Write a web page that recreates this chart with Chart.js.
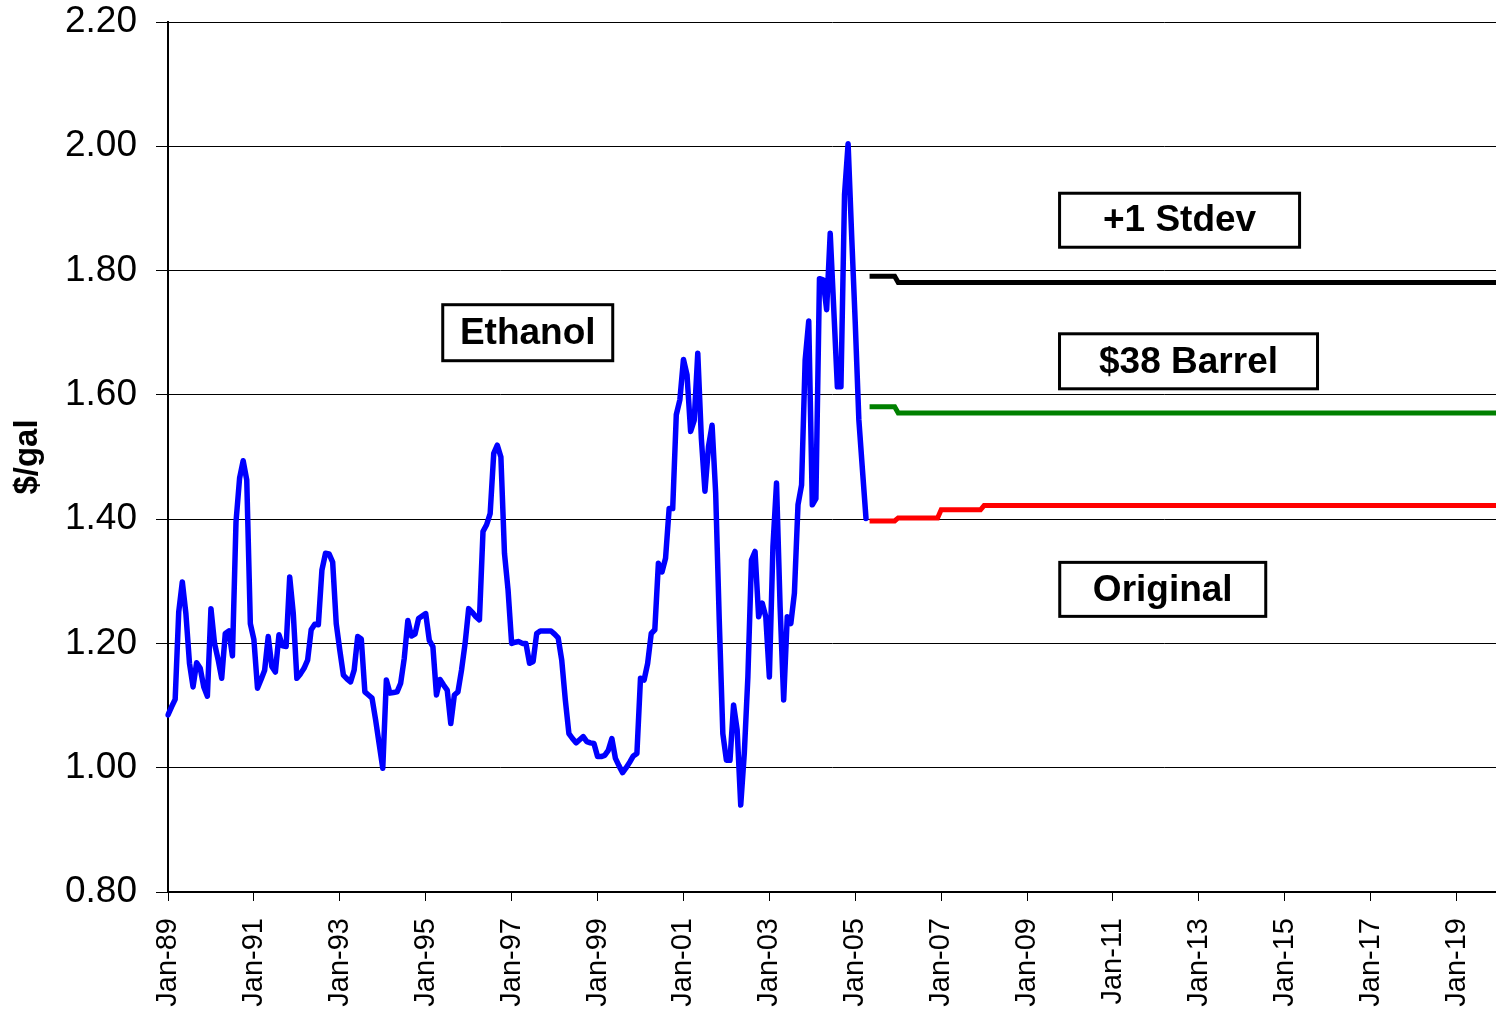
<!DOCTYPE html>
<html>
<head>
<meta charset="utf-8">
<script src="https://cdn.jsdelivr.net/npm/chart.js@4.4.0/dist/chart.umd.min.js"></script>
<style>
html,body{margin:0;padding:0;background:#fff;}
#wrap{width:1496px;height:1012px;position:relative;}
</style>
</head>
<body>
<div id="wrap"><canvas id="c" width="1496" height="1012"></canvas></div>
<script>
// ---------------- DATA ----------------
const monthNames = ['Jan','Feb','Mar','Apr','May','Jun','Jul','Aug','Sep','Oct','Nov','Dec'];
const firstYear = 1989;
const lastYear = 2019;
const categories = [];
for (let y = firstYear; y <= lastYear; y++) {
  for (let m = 0; m < 12; m++) categories.push(monthNames[m] + '-' + String(y % 100).padStart(2, '0'));
}

// Monthly ethanol price, Jan-89 .. Apr-05 ($/gal)
const ethanol = [
  1.085,1.098,1.110,1.251,1.299,1.248,1.168,1.130,1.169,1.160,1.130,1.115,
  1.256,1.200,1.174,1.144,1.216,1.220,1.180,1.396,1.466,1.494,1.463,1.232,
  1.206,1.128,1.142,1.157,1.211,1.163,1.154,1.214,1.196,1.195,1.307,1.248,
  1.144,1.151,1.160,1.173,1.222,1.231,1.230,1.318,1.345,1.344,1.331,1.232,
  1.189,1.149,1.143,1.138,1.157,1.211,1.207,1.122,1.117,1.112,1.077,1.038,
  0.999,1.141,1.120,1.121,1.122,1.136,1.176,1.237,1.212,1.215,1.240,1.244,
  1.248,1.205,1.195,1.117,1.142,1.133,1.125,1.071,1.117,1.122,1.157,1.200,
  1.256,1.250,1.243,1.238,1.380,1.391,1.409,1.506,1.519,1.500,1.345,1.286,
  1.200,1.202,1.203,1.200,1.200,1.168,1.171,1.216,1.220,1.220,1.220,1.220,
  1.215,1.209,1.173,1.109,1.055,1.047,1.040,1.045,1.050,1.042,1.040,1.039,
  1.018,1.018,1.020,1.028,1.047,1.015,1.003,0.992,1.000,1.009,1.019,1.023,
  1.144,1.141,1.168,1.216,1.222,1.329,1.315,1.337,1.417,1.417,1.568,1.592,
  1.657,1.632,1.541,1.559,1.667,1.530,1.445,1.517,1.551,1.442,1.238,1.055,
  1.012,1.012,1.101,1.061,0.940,1.023,1.146,1.334,1.348,1.243,1.265,1.243,
  1.146,1.356,1.458,1.259,1.109,1.243,1.232,1.281,1.423,1.455,1.656,1.719,
  1.423,1.433,1.787,1.785,1.737,1.860,1.737,1.613,1.613,1.922,2.004,1.855,
  1.715,1.560,1.480,1.401
];

// Forecast scenarios (annual levels), starting May-05
const forecastStart = 'May-05';
const forecastYears = [2005,2006,2007,2008,2009,2010,2011,2012,2013,2014,2015,2016,2017,2018,2019];
const stdevPlus1 = [1.791,1.781,1.781,1.781,1.781,1.781,1.781,1.781,1.781,1.781,1.781,1.781,1.781,1.781,1.781];
const barrel38   = [1.581,1.571,1.571,1.571,1.571,1.571,1.571,1.571,1.571,1.571,1.571,1.571,1.571,1.571,1.571];
const original   = [1.397,1.402,1.415,1.422,1.422,1.422,1.422,1.422,1.422,1.422,1.422,1.422,1.422,1.422,1.422];

const yTickValues = [0.80,1.00,1.20,1.40,1.60,1.80,2.00,2.20];

// ---------------- BUILD ----------------
const startIdx = categories.indexOf(forecastStart);
function expandAnnual(annual) {
  return categories.map((c, i) => {
    if (i < startIdx) return null;
    const yr = firstYear + Math.floor(i / 12);
    return annual[forecastYears.indexOf(yr)];
  });
}

const annotations = [
  {text: 'Ethanol',    x: 100.5, y: 1.700, w: 170, h: 56},
  {text: '+1 Stdev',   x: 282.6, y: 1.881, w: 240, h: 54},
  {text: '$38 Barrel', x: 285.1, y: 1.654, w: 258, h: 55},
  {text: 'Original',   x: 277.9, y: 1.287, w: 206, h: 54}
];

const boxPlugin = {
  id: 'boxes',
  afterDatasetsDraw(chart) {
    const ctx = chart.ctx;
    const xs = chart.scales.x, ys = chart.scales.y;
    ctx.save();
    annotations.forEach(a => {
      const cx = xs.getPixelForValue(a.x);
      const cy = ys.getPixelForValue(a.y);
      ctx.fillStyle = '#fff';
      ctx.fillRect(cx - a.w / 2, cy - a.h / 2, a.w, a.h);
      ctx.lineWidth = 3;
      ctx.strokeStyle = '#000';
      ctx.strokeRect(cx - a.w / 2, cy - a.h / 2, a.w, a.h);
      ctx.fillStyle = '#000';
      ctx.font = 'bold 37px "Liberation Sans", Arial, sans-serif';
      ctx.textAlign = 'center';
      ctx.textBaseline = 'middle';
      ctx.fillText(a.text, cx, cy + 1);
    });
    ctx.restore();
  }
};

const FONT = '"Liberation Sans", Arial, sans-serif';

new Chart(document.getElementById('c'), {
  type: 'line',
  data: {
    labels: categories,
    datasets: [
      {label: '+1 Stdev', data: expandAnnual(stdevPlus1), borderColor: '#000000', borderWidth: 5, pointRadius: 0, tension: 0, fill: false},
      {label: '$38 Barrel', data: expandAnnual(barrel38), borderColor: '#008000', borderWidth: 5, pointRadius: 0, tension: 0, fill: false},
      {label: 'Original', data: expandAnnual(original), borderColor: '#FF0000', borderWidth: 5, pointRadius: 0, tension: 0, fill: false},
      {label: 'Ethanol', data: ethanol, borderColor: '#0000FF', borderWidth: 5.5, pointRadius: 0, tension: 0, fill: false, borderJoinStyle: 'round', borderCapStyle: 'round'}
    ]
  },
  options: {
    responsive: false,
    animation: false,
    devicePixelRatio: 1,
    layout: {padding: {top: 22, right: 0, left: 0, bottom: 0}},
    plugins: {legend: {display: false}, tooltip: {enabled: false}},
    scales: {
      x: {
        type: 'category',
        offset: false,
        grid: {
          drawOnChartArea: false,
          drawTicks: true,
          tickLength: 9,
          lineWidth: 1,
          color: (ctx) => (ctx.index % 24 === 0 ? '#000' : 'rgba(0,0,0,0)')
        },
        border: {display: true, color: '#000', width: 2},
        ticks: {
          autoSkip: false,
          minRotation: 90,
          maxRotation: 90,
          padding: 17,
          color: '#000',
          font: {family: FONT, size: 29},
          callback: function (val, idx) { return idx % 24 === 0 ? categories[idx] : ''; }
        },
        afterFit: (s) => { s.height = 120; s.paddingLeft = 0; s.paddingRight = 0; }
      },
      y: {
        min: 0.8,
        max: 2.2,
        afterBuildTicks: (s) => { s.ticks = yTickValues.map(v => ({value: v})); },
        grid: {color: '#000', lineWidth: 1, tickLength: 12},
        border: {display: true, color: '#000', width: 2},
        ticks: {
          padding: 19,
          color: '#000',
          font: {family: FONT, size: 37},
          callback: (v) => Number(v).toFixed(2)
        },
        title: {
          display: true,
          text: '$/gal',
          color: '#000',
          font: {family: FONT, size: 33, weight: 'bold'},
          padding: {top: 8, bottom: 0}
        },
        afterFit: (s) => { s.width = 168; s.paddingTop = 0; s.paddingBottom = 0; }
      }
    }
  },
  plugins: [boxPlugin]
});
</script>
</body>
</html>
